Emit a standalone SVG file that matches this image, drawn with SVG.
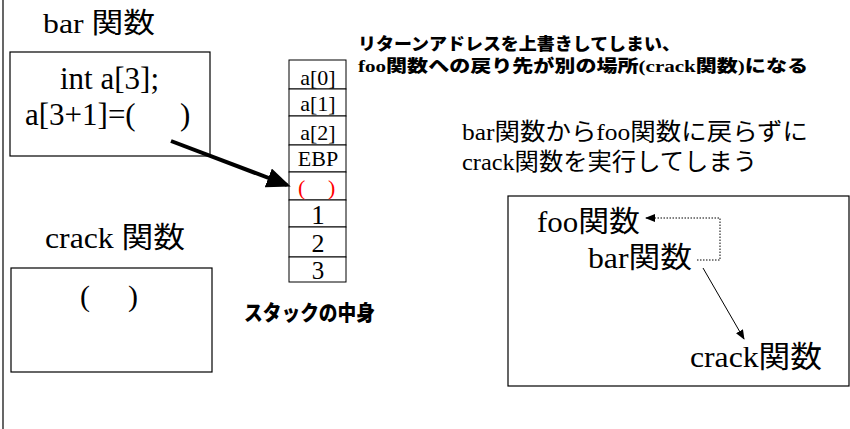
<svg xmlns="http://www.w3.org/2000/svg" width="850" height="429" viewBox="0 0 850 429">
<style>
.serif{font-family:"Liberation Serif","Noto Sans CJK JP",serif;fill:#000}
.bold{font-family:"Liberation Serif","Noto Sans CJK JP",sans-serif;font-weight:900;fill:#000}
.box{fill:#fff;stroke:#000;stroke-width:1.2}
.cell{fill:#fff;stroke:#000;stroke-width:1}
.mid{text-anchor:middle}
.red{fill:#ff0000}
</style>
<defs>
<marker id="bigHead" markerWidth="6" markerHeight="5" refX="5" refY="2.5" orient="auto" markerUnits="strokeWidth"><path d="M0,0 L6,2.5 L0,5 z" fill="#000"/></marker>
<marker id="smallHead" markerWidth="10" markerHeight="8" refX="9" refY="4" orient="auto" markerUnits="userSpaceOnUse"><path d="M0,0 L10,4 L0,8 z" fill="#000"/></marker>
</defs>
<rect width="850" height="429" fill="#fff"/>
<line x1="3" y1="0" x2="3" y2="429" stroke="#000" stroke-width="1.2"/>

<g id="bar-func">
<text class="serif" x="43" y="33" font-size="28" textLength="112" lengthAdjust="spacingAndGlyphs">bar 関数</text>
<rect class="box" x="10" y="52" width="200" height="104"/>
<text class="serif" x="60" y="89" font-size="31">int a[3];</text>
<text class="serif" x="25" y="125" font-size="31">a[3+1]=(</text>
<text class="serif" x="180" y="125" font-size="31">)</text>
</g>

<g id="crack-func">
<text class="serif" x="45" y="248" font-size="29" textLength="140" lengthAdjust="spacingAndGlyphs">crack 関数</text>
<rect class="box" x="11" y="268" width="201" height="104"/>
<text class="serif" x="80" y="306" font-size="30">(</text>
<text class="serif" x="128" y="306" font-size="30">)</text>
</g>

<g id="stack">
<rect class="cell" x="289" y="60" width="57" height="29"/>
<rect class="cell" x="289" y="89" width="57" height="27"/>
<rect class="cell" x="289" y="116" width="57" height="29"/>
<rect class="cell" x="289" y="145" width="57" height="27"/>
<rect class="cell" x="289" y="172" width="57" height="28"/>
<rect class="cell" x="289" y="200" width="57" height="27"/>
<rect class="cell" x="289" y="227" width="57" height="30"/>
<rect class="cell" x="289" y="257" width="57" height="25"/>
<text class="serif mid" x="318" y="85" font-size="22">a[0]</text>
<text class="serif mid" x="318" y="111" font-size="22">a[1]</text>
<text class="serif mid" x="318" y="140" font-size="22">a[2]</text>
<text class="serif mid" x="318" y="166" font-size="22">EBP</text>
<text class="serif red" x="298" y="195" font-size="22">(</text>
<text class="serif red" x="328" y="195" font-size="22">)</text>
<text class="serif mid" x="318" y="224" font-size="27">1</text>
<text class="serif mid" x="318" y="252" font-size="26">2</text>
<text class="serif mid" x="318" y="279" font-size="25">3</text>
<text class="bold" x="244" y="320" font-size="21" textLength="131" lengthAdjust="spacingAndGlyphs">スタックの中身</text>
</g>

<g id="note-top">
<text class="bold" x="358" y="50" font-size="17" textLength="322" lengthAdjust="spacingAndGlyphs">リターンアドレスを上書きしてしまい、</text>
<text class="bold" x="358" y="72" font-size="17" textLength="450" lengthAdjust="spacingAndGlyphs">foo関数への戻り先が別の場所(crack関数)になる</text>
</g>

<g id="note-right">
<text class="serif" x="462" y="140" font-size="24" textLength="346" lengthAdjust="spacingAndGlyphs">bar関数からfoo関数に戻らずに</text>
<text class="serif" x="462" y="170" font-size="24" textLength="295" lengthAdjust="spacingAndGlyphs">crack関数を実行してしまう</text>
</g>

<g id="flow-box">
<rect class="box" x="508" y="196" width="341" height="190"/>
<text class="serif" x="537" y="232" font-size="29" textLength="103" lengthAdjust="spacingAndGlyphs">foo関数</text>
<text class="serif" x="588" y="268" font-size="29" textLength="104" lengthAdjust="spacingAndGlyphs">bar関数</text>
<text class="serif" x="690" y="367" font-size="30" textLength="132" lengthAdjust="spacingAndGlyphs">crack関数</text>
</g>

<g id="connectors">
<line x1="171" y1="141" x2="287" y2="185" stroke="#000" stroke-width="4" marker-end="url(#bigHead)"/>
<polyline points="697,260 720,260 720,218 646,218" fill="none" stroke="#000" stroke-width="1" stroke-dasharray="1.5,1.5" marker-end="url(#smallHead)"/>
<line x1="703" y1="268" x2="744" y2="339" stroke="#000" stroke-width="1" marker-end="url(#smallHead)"/>
</g>
</svg>
